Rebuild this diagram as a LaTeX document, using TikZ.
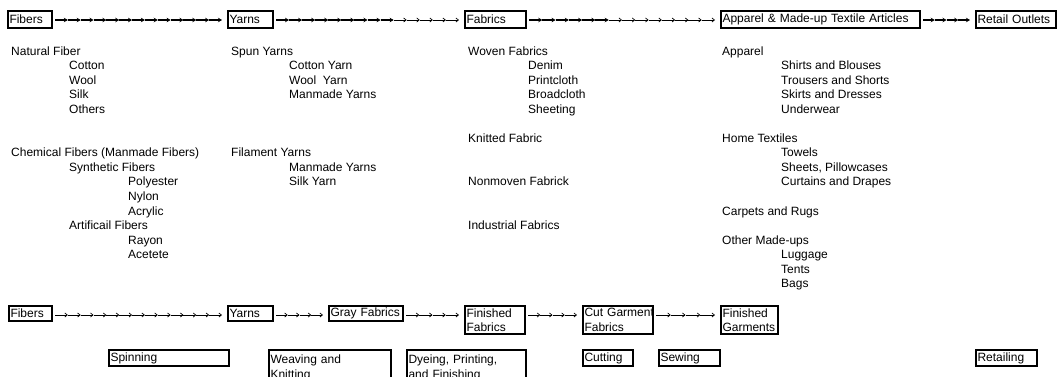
\documentclass[tikz,border=0pt]{standalone}
\usepackage{fontspec}
\setmainfont{Liberation Sans}
\usetikzlibrary{calc,arrows.meta}
\tikzset{
  every node/.style={font=\fontsize{12}{14.5}\selectfont},
  txt/.style={anchor=base west, inner sep=0pt},
  tbox/.style={draw, line width=2.4pt, outer sep=0pt, inner xsep=1.5pt, inner ysep=1pt, anchor=north west, align=left, minimum height=17pt},
  bbox/.style={draw, line width=1.2pt, outer sep=0pt, inner xsep=1.5pt, inner ysep=1pt, anchor=north west, align=left},
  heavyside/.style={line width=2.4pt, line join=miter},
  boldseg/.style={line width=1.3pt, -{Stealth[length=4pt,width=4.5pt]}},
  thinseg/.style={line width=0.7pt, -{Straight Barb[length=2.5pt,width=4pt]}},
}
\newcommand\achain[4]{%
  \path ($(#1.north east)+(3,9)$) coordinate (#1-s) ($(#2.north west)+(-6,9)$) coordinate (#1-e);
  \foreach \k in {1,...,#3}{%
    \ifnum\k>#4
      \draw[thinseg] ($(#1-s)!{(\k-1)/#3}!(#1-e)$) -- ($(#1-s)!{\k/#3}!(#1-e)$);
    \else
      \draw[boldseg] ($(#1-s)!{(\k-1)/#3}!(#1-e)$) -- ($(#1-s)!{\k/#3}!(#1-e)$);
    \fi
  }%
}
\newcommand\rowtxt[4]{\node[txt] (#3) at (#1,{55+14.55*#2}) {#4};}
\begin{document}
\begin{tikzpicture}[x=1pt,y=-1pt]
\useasboundingbox (0,0) rectangle (1060,376);
\clip (0,0) rectangle (1060,376);
\fill[white] (0,0) rectangle (1060,376);

% top row
\node[tbox, text width=41pt] (tFib) at (8,11) {Fibers};
\node[tbox, text width=42pt] (tYarn) at (228,11) {Yarns};
\node[tbox, text width=58pt] (tFab) at (465,11) {Fabrics};
\node[tbox, text width=196pt] (tApp) at (721,11) {Apparel \& Made-up Textile Articles};
\node[tbox, text width=77pt] (tRet) at (976,11) {Retail Outlets};
\achain{tFib}{tYarn}{13}{13}
\achain{tYarn}{tFab}{14}{9}
\achain{tFab}{tApp}{14}{6}
\achain{tApp}{tRet}{4}{4}

% column 1
\rowtxt{11}{0}{c1a}{Natural Fiber}
\rowtxt{69}{1}{c1b}{Cotton}
\rowtxt{69}{2}{c1c}{Wool}
\rowtxt{69}{3}{c1d}{Silk}
\rowtxt{69}{4}{c1e}{Others}
\rowtxt{11}{7}{c1f}{Chemical Fibers (Manmade Fibers)}
\rowtxt{69}{8}{c1g}{Synthetic Fibers}
\rowtxt{128}{9}{c1h}{Polyester}
\rowtxt{128}{10}{c1i}{Nylon}
\rowtxt{128}{11}{c1j}{Acrylic}
\rowtxt{69}{12}{c1k}{Artificail Fibers}
\rowtxt{128}{13}{c1l}{Rayon}
\rowtxt{128}{14}{c1m}{Acetete}
% column 2
\rowtxt{231}{0}{c2a}{Spun Yarns}
\rowtxt{289}{1}{c2b}{Cotton Yarn}
\rowtxt{289}{2}{c2c}{Wool\ \ Yarn}
\rowtxt{289}{3}{c2d}{Manmade Yarns}
\rowtxt{231}{7}{c2e}{Filament Yarns}
\rowtxt{289}{8}{c2f}{Manmade Yarns}
\rowtxt{289}{9}{c2g}{Silk Yarn}
% column 3
\rowtxt{468}{0}{c3a}{Woven Fabrics}
\rowtxt{528}{1}{c3b}{Denim}
\rowtxt{528}{2}{c3c}{Printcloth}
\rowtxt{528}{3}{c3d}{Broadcloth}
\rowtxt{528}{4}{c3e}{Sheeting}
\rowtxt{468}{6}{c3f}{Knitted Fabric}
\rowtxt{468}{9}{c3g}{Nonmoven Fabrick}
\rowtxt{468}{12}{c3h}{Industrial Fabrics}
% column 4
\rowtxt{722}{0}{c4a}{Apparel}
\rowtxt{781}{1}{c4b}{Shirts and Blouses}
\rowtxt{781}{2}{c4c}{Trousers and Shorts}
\rowtxt{781}{3}{c4d}{Skirts and Dresses}
\rowtxt{781}{4}{c4e}{Underwear}
\rowtxt{722}{6}{c4f}{Home Textiles}
\rowtxt{781}{7}{c4g}{Towels}
\rowtxt{781}{8}{c4h}{Sheets, Pillowcases}
\rowtxt{781}{9}{c4i}{Curtains and Drapes}
\rowtxt{722}{11}{c4j}{Carpets and Rugs}
\rowtxt{722}{13}{c4k}{Other Made-ups}
\rowtxt{781}{14}{c4l}{Luggage}
\rowtxt{781}{15}{c4m}{Tents}
\rowtxt{781}{16}{c4n}{Bags}

% bottom row
\node[bbox, text width=40pt, minimum height=15pt] (bFib) at (9,306) {Fibers};
\node[bbox, text width=42pt, minimum height=15pt] (bYarn) at (228,306) {Yarns};
\node[bbox, text width=71pt, minimum height=15pt] (bGray) at (329,306) {Gray Fabrics};
\node[bbox, text width=57pt, minimum height=28pt] (bFinF) at (465,306) {Finished\\Fabrics};
\node[bbox, text width=67pt, minimum height=28pt] (bCut) at (583,306) {\mbox{Cut Garment}\\Fabrics};
\node[bbox, text width=54pt, minimum height=28pt] (bFinG) at (721,306) {Finished\\Garments};
\achain{bFib}{bYarn}{13}{0}
\achain{bYarn}{bGray}{4}{0}
\achain{bGray}{bFinF}{4}{0}
\achain{bFinF}{bCut}{4}{0}
\achain{bCut}{bFinG}{4}{0}

% process labels
\node[bbox, text width=117pt, minimum height=16pt] (lSpin) at (109,350) {Spinning};
\node[bbox, text width=119pt, minimum height=36pt] (lWeave) at (269,350) {Weaving and\\Knitting};
\node[bbox, text width=116pt, minimum height=36pt] (lDye) at (407,350) {Dyeing, Printing,\\and Finishing};
\node[bbox, text width=47pt, minimum height=16pt] (lCut) at (583,350) {Cutting};
\node[bbox, text width=58pt, minimum height=16pt] (lSew) at (659,350) {Sewing};
\node[bbox, text width=58pt, minimum height=16pt] (lRet) at (976,350) {Retailing};

\foreach \n in {bFib,bYarn,bGray,bFinF,bCut,bFinG,lSpin,lWeave,lDye,lCut,lSew,lRet}
  \draw[heavyside] (\n.north east) -- (\n.south east) -- (\n.south west);
\end{tikzpicture}
\end{document}
